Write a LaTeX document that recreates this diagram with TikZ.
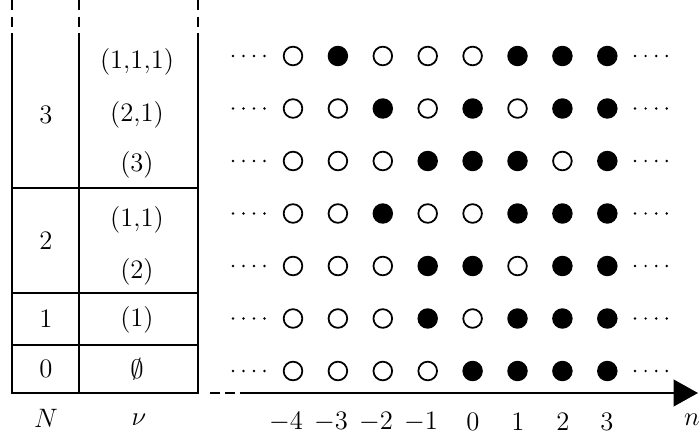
\documentclass[tikz,border=0pt]{standalone}
\usepackage{amsmath,amssymb}
\usetikzlibrary{arrows.meta}
\tikzset{
  site0/.style={circle, draw, line width=0.8pt, minimum size=8.4pt, inner sep=0pt, fill=white},
  site1/.style={circle, draw, line width=0.8pt, minimum size=8.4pt, inner sep=0pt, fill=black},
  gridline/.style={line width=1pt},
  cutline/.style={gridline, dash pattern=on 4.5pt off 3pt},
  lbl/.style={font=\fontsize{11.5}{13}\selectfont, inner sep=0pt},
}
\begin{document}
\begin{tikzpicture}[x=0.45pt, y=-0.45pt]
    \useasboundingbox (0,0) rectangle (699,444);

    % Table frame
    \draw[gridline] (12,42) -- (12,393) -- (198,393) -- (198,42);
    \draw[gridline] (79,42) -- (79,393);
    \draw[gridline] (12,188) -- (198,188);
    \draw[gridline] (12,293) -- (198,293);
    \draw[gridline] (12,345) -- (198,345);

    % Table goes on upwards
    \draw[cutline] (12,0) -- (12,42);
    \draw[cutline] (79,0) -- (79,42);
    \draw[cutline] (198,0) -- (198,42);

    % Particle number N
    \node[lbl] (N3) at (46,115) {$3$};
    \node[lbl] (N2) at (46,241) {$2$};
    \node[lbl] (N1) at (46,319) {$1$};
    \node[lbl] (N0) at (46,369) {$0$};

    % Partitions nu
    \node[lbl] (p111) at (137,62) {$(1{,}1{,}1)$};
    \node[lbl] (p21) at (137,115) {$(2{,}1)$};
    \node[lbl] (p3) at (137,165) {$(3)$};
    \node[lbl] (p11) at (137,220) {$(1{,}1)$};
    \node[lbl] (p2) at (137,272) {$(2)$};
    \node[lbl] (p1) at (137,320) {$(1)$};
    \node[lbl] (p0) at (137,369) {$\emptyset$};

    % Occupied (1) and empty (0) sites, one row per state
    \foreach \pat [count=\r] in {{0,1,0,0,0,1,1,1},{0,0,1,0,1,0,1,1},{0,0,0,1,1,1,0,1},
        {0,0,1,0,0,1,1,1},{0,0,0,1,1,0,1,1},{0,0,0,1,0,1,1,1},{0,0,0,0,1,1,1,1}} {
        \foreach \s [count=\k] in \pat {
            \node[site\s] (c\r-\k) at ({293+44.9*(\k-1)},{56+52.5*(\r-1)}) {};
        }
        % dots on both sides
        \foreach \d in {0,...,3} {
            \fill ({233+10.5*\d},{56+52.5*(\r-1)}) circle (0.6pt);
            \fill ({635+10.6*\d},{56+52.5*(\r-1)}) circle (0.6pt);
        }
    }

    % Axis
    \coordinate (a0) at (210,393);
    \coordinate (a1) at (249,393);
    \coordinate (a2) at (698,393);
    \draw[gridline, dash pattern=on 4.5pt off 2.2pt] (a0) -- (a1);
    \draw[gridline, -{Triangle[length=11pt,width=12pt]}] (a1) -- (a2);

    % Site labels
    \foreach \n/\x [count=\k] in {-4/286,-3/331,-2/376,-1/421,0/473,1/518,2/563,3/607}
        \node[lbl] (t\k) at (\x,422) {$\n$};
    \node[lbl] (nlab) at (692,420) {$n$};
    \node[lbl] (Nlab) at (46,418) {$N$};
    \node[lbl] (nulab) at (139,420) {$\nu$};

\end{tikzpicture}
\end{document}
